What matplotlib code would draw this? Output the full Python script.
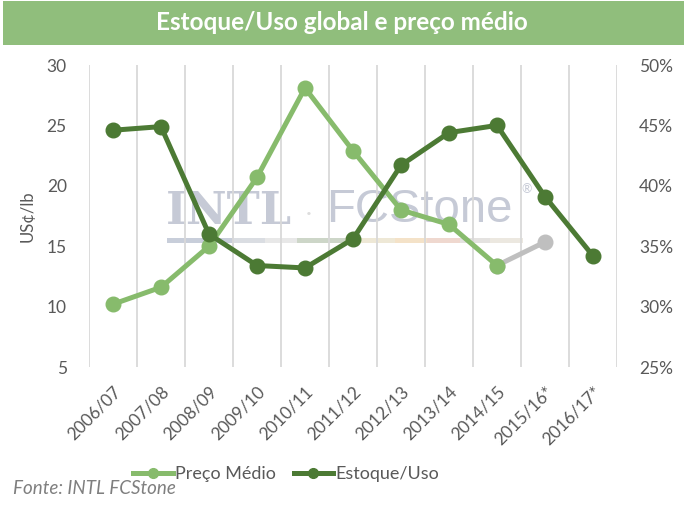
import matplotlib
matplotlib.use("Agg")
import matplotlib.pyplot as plt
from matplotlib.patches import Rectangle
from matplotlib.lines import Line2D

categories = ["2006/07", "2007/08", "2008/09", "2009/10", "2010/11", "2011/12",
              "2012/13", "2013/14", "2014/15", "2015/16*", "2016/17*"]
preco_medio = [10.2, 11.6, 15.0, 20.7, 28.1, 22.9, 18.0, 16.8, 13.4]
preco_proj = [13.4, 15.35]          # 2014/15 -> 2015/16* (gray projection)
estoque_uso = [44.6, 44.9, 36.0, 33.4, 33.2, 35.6, 41.7, 44.4, 45.0, 39.1, 34.2]
left_ticks = [5, 10, 15, 20, 25, 30]
right_ticks = [25, 30, 35, 40, 45, 50]

LIGHT = "#87BB6C"
DARK = "#4C7A34"
GRAY = "#BFBFBF"
TXT = "#595959"
FONT = ["Lato", "DejaVu Sans"]
plt.rcParams["font.family"] = FONT

W, H = 684, 508
fig = plt.figure(figsize=(W / 100, H / 100), dpi=100)

def fx(px):
    return px / W

def fy(py):
    return 1 - py / H

# title banner
fig.patches.append(Rectangle((fx(3), fy(45)), fx(681), 44 / H, transform=fig.transFigure,
                             facecolor="#90BE7C", edgecolor="none", zorder=0))
fig.text(0.5, fy(23), "Estoque/Uso global e preço médio", ha="center", va="center",
         color="white", fontsize=17.5, fontweight="bold")

ax = fig.add_axes([fx(89), fy(367), fx(617) - fx(89), (367 - 65) / H])
ax2 = ax.twinx()

x = list(range(len(categories)))
ax.set_xlim(-0.5, len(categories) - 0.5)
ax.set_ylim(5, 30)
ax2.set_ylim(25, 50)

for b in [i - 0.5 for i in range(len(categories) + 1)]:
    ax.axvline(b, color="#D9D9D9", lw=1.3, zorder=1)

# watermark
wm_color = "#C6CAD6"
fig.text(fx(166), fy(212), "INTL", fontsize=32, fontweight="bold", family="DejaVu Serif",
         color=wm_color, ha="left", va="center", zorder=2)
fig.text(fx(309), fy(214), "·", fontsize=16, color="#DDDDDD", ha="center", va="center", zorder=2)
fig.text(fx(326), fy(210), "FCStone", fontsize=34, family="Liberation Sans",
         color=wm_color, ha="left", va="center", zorder=2)
fig.text(fx(521), fy(189), "®", fontsize=9, color=wm_color, ha="left", va="center", zorder=2)
bar_cols = ["#C8CEDA", "#DADDE2", "#E8E8E8", "#CDD6C8", "#EEE8D6", "#F4E2C8",
            "#EFD8CF", "#E4E2E0", "#ECE8E0"]
bar_edges = [167, 233, 265, 297, 345, 395, 427, 460, 490, 523]
for c, a, b in zip(bar_cols, bar_edges[:-1], bar_edges[1:]):
    fig.patches.append(Rectangle((fx(a), fy(243)), fx(b - a), 5 / H, transform=fig.transFigure,
                                 facecolor=c, edgecolor="none", zorder=2))

ax.set_zorder(3)
ax2.set_zorder(4)
ax.patch.set_visible(False)
ax2.patch.set_visible(False)

lw, ms = 3.6, 10.5
ax.plot(x[8:10], preco_proj, color=GRAY, lw=lw, marker="o", ms=ms, zorder=3)
ax.plot(x[:9], preco_medio, color=LIGHT, lw=lw, marker="o", ms=ms, zorder=4)
ax2.plot(x, estoque_uso, color=DARK, lw=lw, marker="o", ms=ms, zorder=5)

for a in (ax, ax2):
    for s in a.spines.values():
        s.set_visible(False)

ax.set_yticks(left_ticks)
ax.set_yticklabels([str(v) for v in left_ticks])
ax2.set_yticks(right_ticks)
ax2.set_yticklabels([f"{v}%" for v in right_ticks])
ax.tick_params(axis="y", length=0, labelsize=12.5, labelcolor=TXT, pad=16)
ax2.tick_params(axis="y", length=0, labelsize=12.5, labelcolor=TXT, pad=16)
ax.set_xticks(x)
ax.set_xticklabels(categories, rotation=45, ha="right", rotation_mode="anchor")
ax.tick_params(axis="x", length=0, labelsize=12.5, labelcolor=TXT, pad=12)
ax.set_ylabel("US¢/lb", fontsize=12, color=TXT, labelpad=8)

handles = [Line2D([], [], color=LIGHT, lw=lw, marker="o", ms=7),
           Line2D([], [], color=DARK, lw=lw, marker="o", ms=7)]
fig.legend(handles, ["Preço Médio", "Estoque/Uso"], loc="center",
           bbox_to_anchor=(fx(286), fy(474)), ncol=2, frameon=False, fontsize=13,
           handlelength=2.2, handletextpad=0.1, columnspacing=1.0, labelcolor=TXT)

fig.text(fx(13), fy(489), "Fonte: INTL FCStone", fontsize=13.5, style="italic",
         color="#7F7F7F", ha="left", va="center")

fig.savefig("out.png", dpi=100)
